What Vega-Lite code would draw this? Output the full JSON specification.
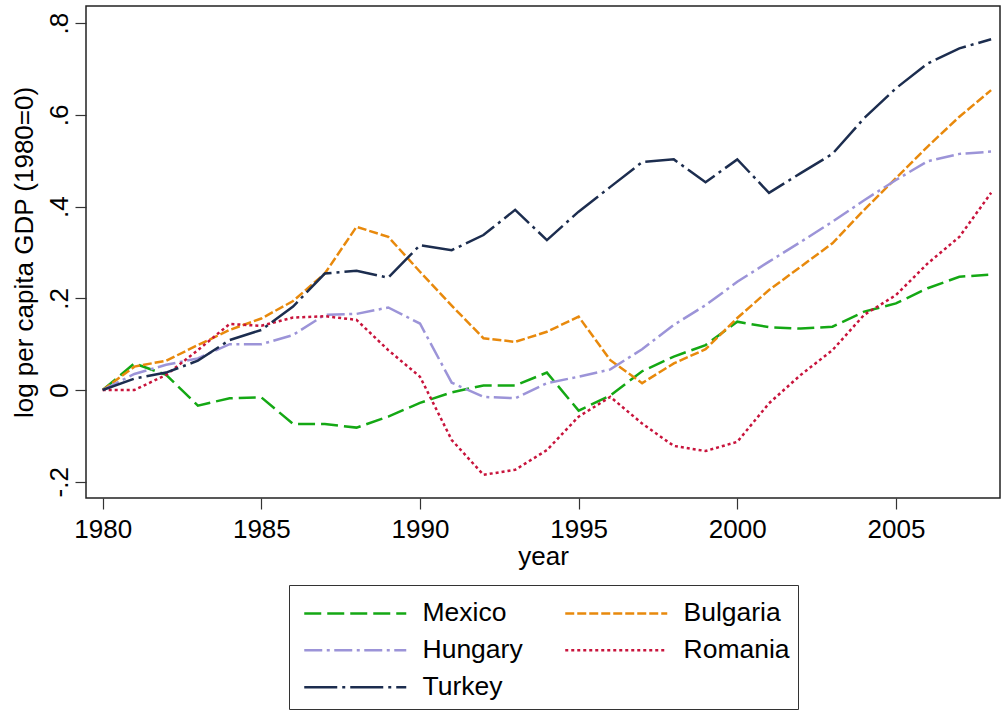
{
  "$schema": "https://vega.github.io/schema/vega-lite/v6.json",
  "width": 914,
  "height": 492,
  "autosize": {"type": "none"},
  "padding": {"left": 86, "top": 6, "right": 2, "bottom": 213},
  "background": "white",
  "config": {
    "font": "Liberation Sans",
    "view": {"stroke": "#222222", "strokeWidth": 1.5}
  },
  "datasets": {
    "gdp": [
      {"country":"Mexico","year":1980,"value":0},{"country":"Mexico","year":1981,"value":0.058},{"country":"Mexico","year":1982,"value":0.033},{"country":"Mexico","year":1983,"value":-0.034},{"country":"Mexico","year":1984,"value":-0.018},{"country":"Mexico","year":1985,"value":-0.016},{"country":"Mexico","year":1986,"value":-0.074},{"country":"Mexico","year":1987,"value":-0.074},{"country":"Mexico","year":1988,"value":-0.082},{"country":"Mexico","year":1989,"value":-0.058},{"country":"Mexico","year":1990,"value":-0.028},{"country":"Mexico","year":1991,"value":-0.005},{"country":"Mexico","year":1992,"value":0.010},{"country":"Mexico","year":1993,"value":0.010},{"country":"Mexico","year":1994,"value":0.038},{"country":"Mexico","year":1995,"value":-0.045},{"country":"Mexico","year":1996,"value":-0.012},{"country":"Mexico","year":1997,"value":0.041},{"country":"Mexico","year":1998,"value":0.073},{"country":"Mexico","year":1999,"value":0.098},{"country":"Mexico","year":2000,"value":0.149},{"country":"Mexico","year":2001,"value":0.137},{"country":"Mexico","year":2002,"value":0.134},{"country":"Mexico","year":2003,"value":0.138},{"country":"Mexico","year":2004,"value":0.171},{"country":"Mexico","year":2005,"value":0.189},{"country":"Mexico","year":2006,"value":0.222},{"country":"Mexico","year":2007,"value":0.247},{"country":"Mexico","year":2008,"value":0.252},
      {"country":"Bulgaria","year":1980,"value":0},{"country":"Bulgaria","year":1981,"value":0.051},{"country":"Bulgaria","year":1982,"value":0.064},{"country":"Bulgaria","year":1983,"value":0.098},{"country":"Bulgaria","year":1984,"value":0.131},{"country":"Bulgaria","year":1985,"value":0.156},{"country":"Bulgaria","year":1986,"value":0.194},{"country":"Bulgaria","year":1987,"value":0.254},{"country":"Bulgaria","year":1988,"value":0.356},{"country":"Bulgaria","year":1989,"value":0.334},{"country":"Bulgaria","year":1990,"value":0.258},{"country":"Bulgaria","year":1991,"value":0.184},{"country":"Bulgaria","year":1992,"value":0.113},{"country":"Bulgaria","year":1993,"value":0.105},{"country":"Bulgaria","year":1994,"value":0.127},{"country":"Bulgaria","year":1995,"value":0.160},{"country":"Bulgaria","year":1996,"value":0.065},{"country":"Bulgaria","year":1997,"value":0.015},{"country":"Bulgaria","year":1998,"value":0.058},{"country":"Bulgaria","year":1999,"value":0.089},{"country":"Bulgaria","year":2000,"value":0.157},{"country":"Bulgaria","year":2001,"value":0.218},{"country":"Bulgaria","year":2002,"value":0.269},{"country":"Bulgaria","year":2003,"value":0.320},{"country":"Bulgaria","year":2004,"value":0.393},{"country":"Bulgaria","year":2005,"value":0.462},{"country":"Bulgaria","year":2006,"value":0.531},{"country":"Bulgaria","year":2007,"value":0.596},{"country":"Bulgaria","year":2008,"value":0.654},
      {"country":"Hungary","year":1980,"value":0},{"country":"Hungary","year":1981,"value":0.035},{"country":"Hungary","year":1982,"value":0.055},{"country":"Hungary","year":1983,"value":0.069},{"country":"Hungary","year":1984,"value":0.100},{"country":"Hungary","year":1985,"value":0.100},{"country":"Hungary","year":1986,"value":0.120},{"country":"Hungary","year":1987,"value":0.164},{"country":"Hungary","year":1988,"value":0.166},{"country":"Hungary","year":1989,"value":0.180},{"country":"Hungary","year":1990,"value":0.145},{"country":"Hungary","year":1991,"value":0.016},{"country":"Hungary","year":1992,"value":-0.015},{"country":"Hungary","year":1993,"value":-0.018},{"country":"Hungary","year":1994,"value":0.015},{"country":"Hungary","year":1995,"value":0.029},{"country":"Hungary","year":1996,"value":0.045},{"country":"Hungary","year":1997,"value":0.089},{"country":"Hungary","year":1998,"value":0.142},{"country":"Hungary","year":1999,"value":0.185},{"country":"Hungary","year":2000,"value":0.236},{"country":"Hungary","year":2001,"value":0.280},{"country":"Hungary","year":2002,"value":0.323},{"country":"Hungary","year":2003,"value":0.367},{"country":"Hungary","year":2004,"value":0.414},{"country":"Hungary","year":2005,"value":0.458},{"country":"Hungary","year":2006,"value":0.499},{"country":"Hungary","year":2007,"value":0.515},{"country":"Hungary","year":2008,"value":0.520},
      {"country":"Romania","year":1980,"value":0},{"country":"Romania","year":1981,"value":0.000},{"country":"Romania","year":1982,"value":0.033},{"country":"Romania","year":1983,"value":0.087},{"country":"Romania","year":1984,"value":0.144},{"country":"Romania","year":1985,"value":0.140},{"country":"Romania","year":1986,"value":0.158},{"country":"Romania","year":1987,"value":0.161},{"country":"Romania","year":1988,"value":0.153},{"country":"Romania","year":1989,"value":0.087},{"country":"Romania","year":1990,"value":0.029},{"country":"Romania","year":1991,"value":-0.109},{"country":"Romania","year":1992,"value":-0.185},{"country":"Romania","year":1993,"value":-0.174},{"country":"Romania","year":1994,"value":-0.131},{"country":"Romania","year":1995,"value":-0.058},{"country":"Romania","year":1996,"value":-0.015},{"country":"Romania","year":1997,"value":-0.073},{"country":"Romania","year":1998,"value":-0.122},{"country":"Romania","year":1999,"value":-0.133},{"country":"Romania","year":2000,"value":-0.113},{"country":"Romania","year":2001,"value":-0.029},{"country":"Romania","year":2002,"value":0.033},{"country":"Romania","year":2003,"value":0.087},{"country":"Romania","year":2004,"value":0.164},{"country":"Romania","year":2005,"value":0.207},{"country":"Romania","year":2006,"value":0.276},{"country":"Romania","year":2007,"value":0.334},{"country":"Romania","year":2008,"value":0.430},
      {"country":"Turkey","year":1980,"value":0},{"country":"Turkey","year":1981,"value":0.025},{"country":"Turkey","year":1982,"value":0.038},{"country":"Turkey","year":1983,"value":0.064},{"country":"Turkey","year":1984,"value":0.109},{"country":"Turkey","year":1985,"value":0.131},{"country":"Turkey","year":1986,"value":0.182},{"country":"Turkey","year":1987,"value":0.254},{"country":"Turkey","year":1988,"value":0.260},{"country":"Turkey","year":1989,"value":0.245},{"country":"Turkey","year":1990,"value":0.316},{"country":"Turkey","year":1991,"value":0.305},{"country":"Turkey","year":1992,"value":0.338},{"country":"Turkey","year":1993,"value":0.393},{"country":"Turkey","year":1994,"value":0.327},{"country":"Turkey","year":1995,"value":0.389},{"country":"Turkey","year":1996,"value":0.443},{"country":"Turkey","year":1997,"value":0.497},{"country":"Turkey","year":1998,"value":0.503},{"country":"Turkey","year":1999,"value":0.453},{"country":"Turkey","year":2000,"value":0.503},{"country":"Turkey","year":2001,"value":0.430},{"country":"Turkey","year":2002,"value":0.473},{"country":"Turkey","year":2003,"value":0.515},{"country":"Turkey","year":2004,"value":0.593},{"country":"Turkey","year":2005,"value":0.658},{"country":"Turkey","year":2006,"value":0.712},{"country":"Turkey","year":2007,"value":0.745},{"country":"Turkey","year":2008,"value":0.765}
    ]
  },
  "data": {"name": "gdp"},
  "mark": {"type": "line", "strokeWidth": 2.5, "clip": true},
  "encoding": {
    "x": {
      "field": "year",
      "type": "quantitative",
      "title": "year",
      "scale": {"domain": [1979.474, 2008.28], "nice": false, "zero": false},
      "axis": {
        "values": [1980, 1985, 1990, 1995, 2000, 2005],
        "format": "d",
        "grid": false,
        "domain": false,
        "tickSize": 11,
        "tickColor": "#333333",
        "tickWidth": 1.2,
        "labelFontSize": 26,
        "labelColor": "#000000",
        "labelPadding": 7,
        "titleFontSize": 26,
        "titleFontWeight": "normal",
        "titleColor": "#000000",
        "titlePadding": 1
      }
    },
    "y": {
      "field": "value",
      "type": "quantitative",
      "title": "log per capita GDP (1980=0)",
      "scale": {"domain": [-0.2355, 0.8375], "nice": false, "zero": false},
      "axis": {
        "values": [-0.2, 0, 0.2, 0.4, 0.6, 0.8],
        "labelExpr": "datum.value == 0 ? '0' : (datum.value < 0 ? '-' : '') + '.' + round(abs(datum.value) * 10)",
        "grid": false,
        "domain": false,
        "tickSize": 11,
        "tickColor": "#333333",
        "tickWidth": 1.2,
        "labelAngle": -90,
        "labelAlign": "center",
        "labelBaseline": "bottom",
        "labelFontSize": 26,
        "labelColor": "#000000",
        "labelPadding": 3,
        "titleFontSize": 26,
        "titleFontWeight": "normal",
        "titleColor": "#000000",
        "titlePadding": 9
      }
    },
    "color": {
      "field": "country",
      "type": "nominal",
      "scale": {
        "domain": ["Mexico", "Bulgaria", "Hungary", "Romania", "Turkey"],
        "range": ["#14a814", "#e8890c", "#9c94d8", "#c8143c", "#1c2d4f"]
      },
      "legend": {
        "orient": "none",
        "legendX": 203,
        "legendY": 579,
        "title": " ",
        "titleFontSize": 7,
        "titlePadding": 0,
        "columns": 2,
        "direction": "horizontal",
        "symbolType": "M-1,0H16",
        "symbolSize": 144,
        "symbolStrokeWidth": 2.5,
        "labelFontSize": 26.5,
        "labelColor": "#000000",
        "labelOffset": 99,
        "columnPadding": 35,
        "rowPadding": 10,
        "padding": 8,
        "strokeColor": "#333333",
        "fillColor": "white"
      }
    },
    "strokeDash": {
      "field": "country",
      "type": "nominal",
      "scale": {
        "domain": ["Mexico", "Bulgaria", "Hungary", "Romania", "Turkey"],
        "range": [[17, 6], [9, 3], [18, 4.5, 3, 4.5], [3, 3], [33, 5, 3, 5]]
      }
    }
  }
}
